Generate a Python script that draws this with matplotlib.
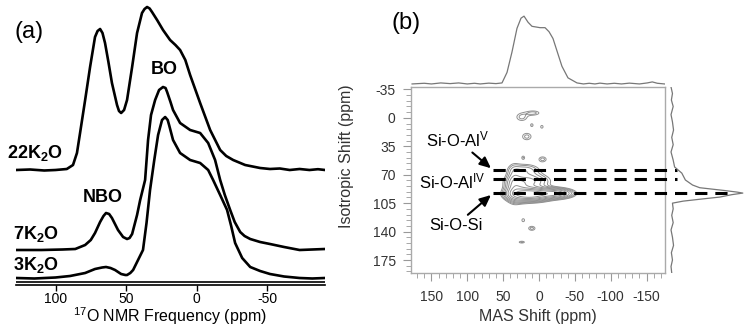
import numpy as np
import matplotlib
matplotlib.use("Agg")
from matplotlib import pyplot as plt
from matplotlib.ticker import MultipleLocator

plt.rcParams.update({
    "font.family": ["Liberation Sans", "DejaVu Sans"],
    "mathtext.default": "regular",
    "axes.unicode_minus": False,
})

# ---- (a) 17O MAS NMR spectra (a.u.) ----
ppm_22 = [128, 118, 108, 100, 92, 87.6, 84.8, 82.6, 79, 75.5, 72, 70.2, 68.4, 66.7, 64.9, 62.5, 60,
          56.4, 55, 53.5, 51.4, 49.3, 45.7, 42.2, 38.7, 36.9, 35.1, 33.3, 31.6, 28, 23.8, 18.8, 15,
          11.7, 8, 4.6, -2.5, -9.6, -16.7, -21, -25.9, -34.4, -45, -52, -59, -66, -73, -80, -86, -91]
int_22 = [0, 0.005, -0.005, 0, 0.01, 0.05, 0.17, 0.37, 0.70, 1.03, 1.33, 1.39, 1.41, 1.37, 1.27, 1.08,
          0.87, 0.65, 0.59, 0.57, 0.60, 0.70, 1.03, 1.37, 1.57, 1.61, 1.63, 1.615, 1.58, 1.50, 1.40,
          1.30, 1.25, 1.20, 1.10, 0.95, 0.67, 0.40, 0.20, 0.14, 0.10, 0.05, 0.02, 0.01, 0.015, 0,
          0.01, 0, 0.008, 0]

ppm_7 = [128, 110, 95, 86, 79, 75, 72, 68.4, 66, 64.2, 62, 60, 55.7, 52.1, 49.3, 47.5, 45.7, 42.2,
         40, 36.5, 34.4, 32.3, 29.4, 26.6, 23.8, 22, 20.9, 18.5, 16.7, 11.7, 4.6, -2.5, -8.2, -13.1,
         -16.7, -20, -23.8, -27, -30.9, -34, -38, -45, -52, -62, -73, -82, -91]
int_7 = [0, 0, 0.005, 0.01, 0.05, 0.10, 0.17, 0.28, 0.34, 0.37, 0.36, 0.32, 0.20, 0.13, 0.11, 0.12,
         0.16, 0.35, 0.50, 0.70, 1.10, 1.35, 1.50, 1.60, 1.63, 1.62, 1.58, 1.48, 1.40, 1.27, 1.20,
         1.17, 1.07, 0.90, 0.70, 0.55, 0.40, 0.28, 0.18, 0.14, 0.11, 0.08, 0.06, 0.03, 0, 0.005, 0.01]

ppm_3 = [128, 115, 100, 89.7, 79, 72, 67, 64.2, 61, 57.8, 53.5, 50.5, 49.3, 47, 45, 41.5, 38, 35.5,
         33, 30, 27.3, 24.5, 22.3, 20.5, 19.5, 16.7, 11.7, 4.6, -2.5, -8.2, -11.7, -16.7, -21.6,
         -24.5, -27.3, -32.3, -38, -45, -52, -62, -73, -82, -91]
int_3 = [0, -0.005, 0.005, 0.02, 0.05, 0.09, 0.105, 0.11, 0.10, 0.08, 0.04, 0.03, 0.03, 0.05, 0.08,
         0.18, 0.28, 0.55, 0.88, 1.18, 1.43, 1.58, 1.61, 1.58, 1.53, 1.38, 1.25, 1.18, 1.15, 1.08,
         0.98, 0.83, 0.68, 0.52, 0.35, 0.20, 0.11, 0.07, 0.04, 0.015, 0, -0.005, 0]

labels_a = ["22K$_2$O", "7K$_2$O", "3K$_2$O"]
offsets_a = [1.15, 0.35, 0.07]

# ---- (b) 17O 3QMAS projections ----
top_mas = [177, 160, 150, 137, 124, 112, 100, 90, 82, 70, 60, 51.6, 44.6, 37.7, 30.7, 25.1, 20.9,
           15.3, 9.8, -1.4, -8.4, -14, -19.5, -26.5, -32, -40.4, -53, -62, -70, -78, -85, -95,
           -105, -115, -126, -140, -151, -158, -165, -175]
top_int = [0, 0.01, 0.0, 0.015, 0.005, 0.015, 0, 0.01, 0.0, 0.012, 0.005, 0.015, 0.17, 0.47, 0.82,
           0.97, 1.0, 0.91, 0.85, 0.83, 0.83, 0.77, 0.67, 0.44, 0.26, 0.09, 0.015, 0.0, 0.01,
           0.0, 0.012, 0.0, 0.01, 0.0, 0.012, 0.0, 0.015, 0.03, 0.01, 0]

right_iso = [-38, -30, -22, -14, -4, 5, 15, 24, 33, 42, 52, 60.5, 68, 76.5, 82.7, 86, 88, 89.5, 91.4,
             92.6, 94.5, 97.5, 100, 102.5, 105, 112, 120, 129, 138, 147, 157, 166, 175, 183, 191]
right_int = [0, 0.02, 0.005, 0.03, 0.0, 0.02, 0.035, 0.01, 0.03, 0.0, 0.03, 0.05, 0.15, 0.2, 0.3,
             0.4, 0.6, 0.75, 0.92, 1.0, 0.85, 0.68, 0.42, 0.17, 0.02, 0.03, 0.01, 0.03, 0.0, 0.02,
             0.035, 0.005, 0.02, 0.0, 0.01]

# 2D contour peaks: MAS centre, iso centre, MAS width, iso width, amplitude
pk_mas = [12, -22, 30, 35, 15, 20, 24, 8, 10, -4, 17, 22, -5, 22, 10, 24]
pk_iso = [94, 93, 90, 80, 78, 64, -1, -6, 9, 11, 23, 49, 51, 126, 136, 153]
pk_wm = [16, 14, 10, 6, 18, 14, 7, 8, 2, 2, 6, 2.2, 5, 2.2, 4.5, 4]
pk_wi = [4.5, 3.5, 8, 14, 6, 5, 4.3, 2.5, 2, 2, 4, 2.2, 3, 2.2, 2.5, 1.2]
pk_amp = [1.0, 0.55, 0.25, 0.12, 0.22, 0.12, 0.08, 0.08, 0.07, 0.07, 0.08, 0.07, 0.08, 0.07,
          0.08, 0.075]

site_iso = [64, 75, 93]   # dashed lines (ppm)
site_end = [-192, -192, -272]


W, H = 750, 336
fig = plt.figure(figsize=(W / 100, H / 100), dpi=100)


def px_axes(l, t, r, b):
    return fig.add_axes([l / W, 1 - b / H, (r - l) / W, (b - t) / H])


# ---------------- panel (a) ----------------
ax = px_axes(16, 5, 325, 285)
for ppm, val, off in zip([ppm_22, ppm_7, ppm_3], [int_22, int_7, int_3], offsets_a):
    ax.plot(ppm, np.array(val) + off, color="black", lw=1.9, solid_joinstyle="round")
ax.set_xlim(128, -91)
ax.set_ylim(0, 2.8)
for s in ["left", "right", "top"]:
    ax.spines[s].set_visible(False)
ax.spines["bottom"].set_linewidth(1.2)
ax.axhline(0.03, color="black", lw=1.2)
ax.set_yticks([])
ax.set_xticks([100, 50, 0, -50])
ax.tick_params(axis="x", direction="out", length=4, width=1, labelsize=10, pad=1)
fig.text(170 / W, 1 - 316 / H, "$^{17}$O NMR Frequency (ppm)", fontsize=11.5, ha="center",
         va="center")

lab_y = [1.32, 0.51, 0.20]
for lab, y in zip(labels_a, lab_y):
    ax.text(134.5 if lab.startswith("22") else 130, y, lab, fontsize=13, fontweight="bold",
            ha="left", va="center", clip_on=False)
ax.text(66.3, 0.88, "NBO", fontsize=13, fontweight="bold", ha="center", va="center")
ax.text(23, 2.15, "BO", fontsize=13, fontweight="bold", ha="center", va="center")
fig.text(15 / W, 1 - 32 / H, "(a)", fontsize=17, ha="left", va="center")

# ---------------- panel (b) ----------------
grey = "#909090"
axm = px_axes(411, 87, 665, 273)
mas = np.arange(180, -180.1, -0.5)
iso = np.arange(-40, 195.1, 0.5)
M, I = np.meshgrid(mas, iso)
Z = np.zeros_like(M)
for cm, ci, wm, wi, a in zip(pk_mas, pk_iso, pk_wm, pk_wi, pk_amp):
    Z += a * np.exp(-0.5 * (((M - cm) / wm) ** 2 + ((I - ci) / wi) ** 2))
levels = [0.05, 0.07, 0.1, 0.14, 0.2, 0.28, 0.4, 0.55, 0.75]
axm.contour(M, I, Z, levels=levels, colors=grey, linewidths=0.7)
axm.set_xlim(178.5, -175.7)
axm.set_ylim(191, -38)
for s in axm.spines.values():
    s.set_color("#aaaaaa")
    s.set_linewidth(1)
axm.xaxis.set_major_locator(MultipleLocator(50))
axm.xaxis.set_minor_locator(MultipleLocator(10))
axm.yaxis.set_major_locator(MultipleLocator(35))
axm.yaxis.set_minor_locator(MultipleLocator(7))
axm.tick_params(which="both", direction="out", color="#999999", labelsize=10, labelcolor="#333333")
axm.tick_params(which="major", length=6, width=0.8)
axm.tick_params(which="minor", length=3.5, width=0.6)
axm.tick_params(axis="y", pad=5)
axm.tick_params(axis="x", pad=6)
fig.text(538 / W, 1 - 316 / H, "MAS Shift (ppm)", fontsize=11.5, color="#333333", ha="center",
         va="center")
axm.set_ylabel("Isotropic Shift (ppm)", fontsize=11.5, color="#333333")
axm.yaxis.set_label_coords(-0.225, 0.63)

for y, xe in zip(site_iso, site_end):
    axm.plot([64, xe], [y, y], color="black", lw=2.2, dashes=(4, 2.6), clip_on=False, zorder=5)

arrow = dict(arrowstyle="-|>,head_length=0.55,head_width=0.25", color="black", lw=1.5,
             shrinkA=0, shrinkB=0)
axm.annotate("Si-O-Al$^{V}$", xy=(67, 62), xytext=(114, 27), fontsize=12, ha="center",
             va="center", arrowprops=arrow, annotation_clip=False)
axm.text(121, 78, "Si-O-Al$^{IV}$", fontsize=12, ha="center", va="center")
axm.annotate("Si-O-Si", xy=(67, 95), xytext=(116, 132), fontsize=12, ha="center",
             va="center", arrowprops=arrow, annotation_clip=False)

axt = px_axes(411, 8, 665, 87)
axt.plot(top_mas, top_int, color="#777777", lw=0.9)
axt.set_xlim(178.5, -175.7)
axt.set_ylim(-0.045, 1.12)
axt.axis("off")

axr = px_axes(666, 87, 750, 273)
axr.plot(right_int, right_iso, color="#777777", lw=0.9)
axr.set_xlim(-0.07, 1.1)
axr.set_ylim(191, -38)
axr.axis("off")

fig.text(392 / W, 1 - 23 / H, "(b)", fontsize=17, ha="left", va="center")

fig.savefig("out.png", dpi=100)
